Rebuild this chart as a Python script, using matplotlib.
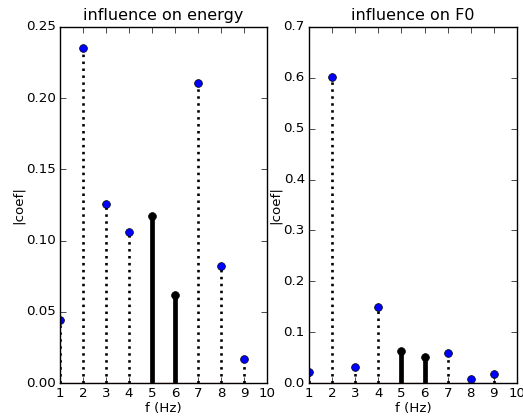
import numpy as np
import matplotlib
matplotlib.use('Agg')
import matplotlib.pyplot as plt

plt.style.use('classic')
plt.rcParams['font.size'] = 9.6
plt.rcParams['xtick.major.pad'] = 3
plt.rcParams['ytick.major.pad'] = 3

# frequencies and |coef|
freqs = np.arange(1, 10)
energy_coef = [0.044, 0.235, 0.126, 0.106, 0.117, 0.062, 0.211, 0.082, 0.017]
f0_coef = [0.021, 0.601, 0.032, 0.150, 0.062, 0.052, 0.059, 0.007, 0.018]
# which frequencies get a solid stem
solid = [False, False, False, False, True, True, False, False, False]

fig = plt.figure(figsize=(5.23, 4.19), dpi=100, facecolor='white')
ax1 = fig.add_axes([0.1147, 0.0859, 0.3958, 0.8497])
ax2 = fig.add_axes([0.5908, 0.0859, 0.3977, 0.8497])


def draw(ax, coef, ymax, title):
    coef = np.array(coef)
    mask = np.array(solid)
    for m, fmt, mk in [(~mask, 'k:', 'bo'), (mask, 'k-', 'ko')]:
        ml, sl, bl = ax.stem(freqs[m], coef[m], linefmt=fmt, markerfmt=mk, basefmt='r-')
        if fmt == 'k-':
            plt.setp(sl, linewidth=3.4)
        else:
            plt.setp(sl, linewidth=1.9, linestyle=(0, (1.8, 3.2)))
        plt.setp(ml, markersize=5.6, markeredgewidth=0.5)
        plt.setp(bl, linewidth=0.8)
    ax.set_xlim(1, 10)
    ax.set_ylim(0, ymax)
    ax.set_xticks(range(1, 11))
    ax.set_title(title, fontsize=11.5, pad=5)
    ax.set_xlabel('f (Hz)', labelpad=1)
    ax.set_ylabel('|coef|', labelpad=1)


draw(ax1, energy_coef, 0.25, 'influence on energy')
ax1.set_yticks(np.arange(0, 0.26, 0.05))
draw(ax2, f0_coef, 0.7, 'influence on F0')
ax2.set_yticks(np.arange(0, 0.71, 0.1))

fig.savefig('out.png', dpi=100, facecolor='white')
